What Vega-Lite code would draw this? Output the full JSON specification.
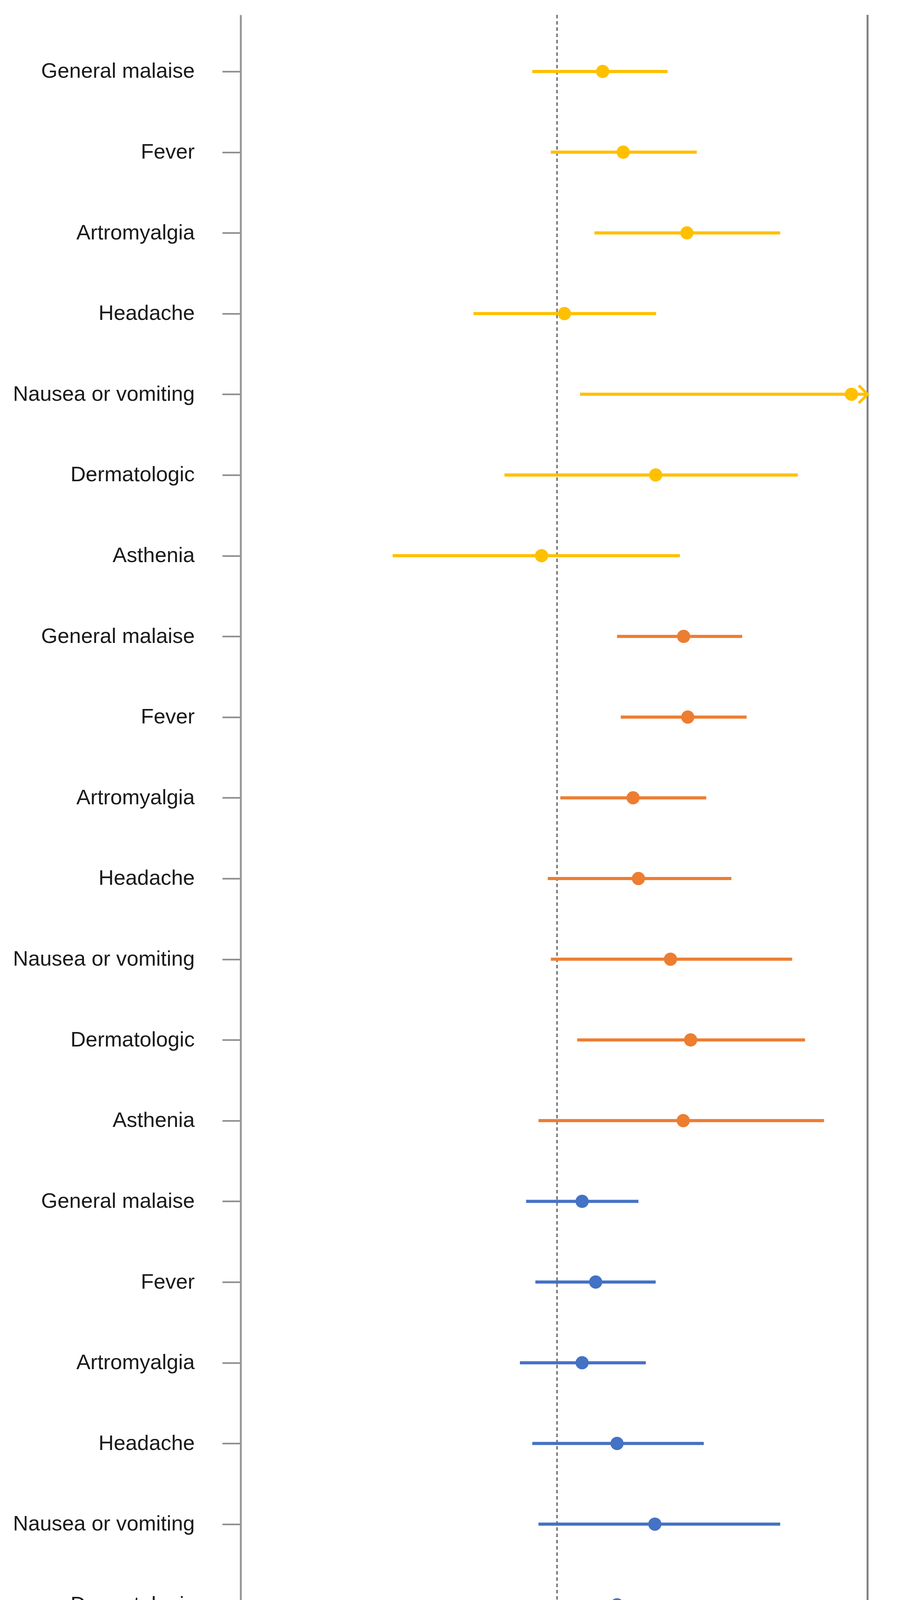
{
  "$schema": "https://vega.github.io/schema/vega-lite/v6.json",
  "width": 1605,
  "height": 4390,
  "autosize": "none",
  "padding": {"left": 616, "top": 38, "right": 124, "bottom": 299},
  "background": "white",
  "config": {
    "font": "Liberation Sans",
    "view": {"stroke": null},
    "axis": {"grid": false}
  },
  "datasets": {
    "or": [
      {"group": "Women", "reaction": "General malaise", "key": "W|General malaise", "or": 2.11, "lo": 0.92, "hi": 3.69},
      {"group": "Women", "reaction": "Fever", "key": "W|Fever", "or": 2.61, "lo": 0.98, "hi": 4.40},
      {"group": "Women", "reaction": "Artromyalgia", "key": "W|Artromyalgia", "or": 4.16, "lo": 1.91, "hi": 7.01},
      {"group": "Women", "reaction": "Headache", "key": "W|Headache", "or": 1.18, "lo": 0.73, "hi": 3.41},
      {"group": "Women", "reaction": "Nausea or vomiting", "key": "W|Nausea or vomiting", "or": 9.45, "lo": 1.56, "hi": 12},
      {"group": "Women", "reaction": "Dermatologic", "key": "W|Dermatologic", "or": 3.40, "lo": 0.83, "hi": 7.61},
      {"group": "Women", "reaction": "Asthenia", "key": "W|Asthenia", "or": 0.95, "lo": 0.47, "hi": 3.99},
      {"group": "Antecedent of COVID-19 infection", "reaction": "General malaise", "key": "C|General malaise", "or": 4.08, "lo": 2.46, "hi": 5.71},
      {"group": "Antecedent of COVID-19 infection", "reaction": "Fever", "key": "C|Fever", "or": 4.18, "lo": 2.55, "hi": 5.86},
      {"group": "Antecedent of COVID-19 infection", "reaction": "Artromyalgia", "key": "C|Artromyalgia", "or": 2.85, "lo": 1.08, "hi": 4.63},
      {"group": "Antecedent of COVID-19 infection", "reaction": "Headache", "key": "C|Headache", "or": 2.98, "lo": 0.97, "hi": 5.34},
      {"group": "Antecedent of COVID-19 infection", "reaction": "Nausea or vomiting", "key": "C|Nausea or vomiting", "or": 3.76, "lo": 0.98, "hi": 7.42},
      {"group": "Antecedent of COVID-19 infection", "reaction": "Dermatologic", "key": "C|Dermatologic", "or": 4.25, "lo": 1.49, "hi": 7.86},
      {"group": "Antecedent of COVID-19 infection", "reaction": "Asthenia", "key": "C|Asthenia", "or": 4.07, "lo": 0.94, "hi": 8.51},
      {"group": "Age > 45 years", "reaction": "General malaise", "key": "A|General malaise", "or": 1.61, "lo": 0.90, "hi": 2.98},
      {"group": "Age > 45 years", "reaction": "Fever", "key": "A|Fever", "or": 1.94, "lo": 0.93, "hi": 3.40},
      {"group": "Age > 45 years", "reaction": "Artromyalgia", "key": "A|Artromyalgia", "or": 1.61, "lo": 0.88, "hi": 3.16},
      {"group": "Age > 45 years", "reaction": "Headache", "key": "A|Headache", "or": 2.46, "lo": 0.92, "hi": 4.57},
      {"group": "Age > 45 years", "reaction": "Nausea or vomiting", "key": "A|Nausea or vomiting", "or": 3.38, "lo": 0.94, "hi": 7.01},
      {"group": "Age > 45 years", "reaction": "Dermatologic", "key": "A|Dermatologic", "or": 2.46, "lo": 0.83, "hi": 5.19},
      {"group": "Age > 45 years", "reaction": "Asthenia", "key": "A|Asthenia", "or": 0.96, "lo": 0.53, "hi": 3.76}
    ]
  },
  "layer": [
    {
      "data": {"values": [{"ref": 1}]},
      "mark": {"type": "rule", "strokeDash": [9, 7], "strokeWidth": 2.5, "color": "#333333"},
      "encoding": {
        "x": {"field": "ref", "type": "quantitative",
              "scale": {"domain": [0, 0.5, 1, 5, 10], "range": [0, 414, 810, 1231, 1605], "clamp": true, "nice": false, "zero": false},
              "axis": {"values": [0, 0.5, 1, 5, 10], "format": "~r",
                       "title": "Odds Ratio for each adverse reaction reported (logistic regression model)",
                       "titleFontSize": 53, "titleFontWeight": "normal", "titleColor": "#1a1a1a",
                       "titleBaseline": "alphabetic", "titleY": 162,
                       "labelFontSize": 52, "labelColor": "#1a1a1a", "labelBaseline": "alphabetic", "labelPadding": 76,
                       "labelFlush": false, "labelOverlap": false,
                       "tickSize": 23, "tickWidth": 2, "tickColor": "#444444",
                       "domainColor": "#8a8a8a", "domainWidth": 7}}
      }
    },
    {
      "data": {"values": [{"edge": 10}]},
      "mark": {"type": "rule", "strokeWidth": 5, "color": "#808080"},
      "encoding": {
        "x": {"field": "edge", "type": "quantitative",
              "scale": {"domain": [0, 0.5, 1, 5, 10], "range": [0, 414, 810, 1231, 1605], "clamp": true, "nice": false, "zero": false},
              "axis": {"values": [0, 0.5, 1, 5, 10], "format": "~r",
                       "title": "Odds Ratio for each adverse reaction reported (logistic regression model)",
                       "titleFontSize": 53, "titleFontWeight": "normal", "titleColor": "#1a1a1a",
                       "titleBaseline": "alphabetic", "titleY": 162,
                       "labelFontSize": 52, "labelColor": "#1a1a1a", "labelBaseline": "alphabetic", "labelPadding": 76,
                       "labelFlush": false, "labelOverlap": false,
                       "tickSize": 23, "tickWidth": 2, "tickColor": "#444444",
                       "domainColor": "#8a8a8a", "domainWidth": 7}}
      }
    },
    {
      "data": {"name": "or"},
      "mark": {"type": "rule", "strokeWidth": 8},
      "encoding": {
        "y": {"field": "key", "type": "nominal", "sort": null,
              "scale": {"type": "point", "padding": 0.624, "align": 0.562},
              "axis": {"title": null, "labelExpr": "split(datum.label, '|')[1]", "labelFontSize": 54, "labelColor": "#1a1a1a",
                       "labelPadding": 71, "tickSize": 47, "tickWidth": 4, "tickColor": "#8a8a8a",
                       "domainColor": "#999999", "domainWidth": 5, "labelLimit": 0}},
        "x": {"field": "lo", "type": "quantitative",
              "scale": {"domain": [0, 0.5, 1, 5, 10], "range": [0, 414, 810, 1231, 1605], "clamp": true, "nice": false, "zero": false},
              "axis": {"values": [0, 0.5, 1, 5, 10], "format": "~r",
                       "title": "Odds Ratio for each adverse reaction reported (logistic regression model)",
                       "titleFontSize": 53, "titleFontWeight": "normal", "titleColor": "#1a1a1a",
                       "titleBaseline": "alphabetic", "titleY": 162,
                       "labelFontSize": 52, "labelColor": "#1a1a1a", "labelBaseline": "alphabetic", "labelPadding": 76,
                       "labelFlush": false, "labelOverlap": false,
                       "tickSize": 23, "tickWidth": 2, "tickColor": "#444444",
                       "domainColor": "#8a8a8a", "domainWidth": 7}},
        "x2": {"field": "hi"},
        "stroke": {"field": "group", "type": "nominal", "legend": null,
                  "scale": {"domain": ["Age > 45 years", "Antecedent of COVID-19 infection", "Women"], "range": ["#4472C4", "#ED7D31", "#FFC000"]}}
      }
    },
    {
      "data": {"name": "or"},
      "mark": {"type": "point", "shape": "circle", "filled": true, "size": 1150, "opacity": 1},
      "encoding": {
        "y": {"field": "key", "type": "nominal", "sort": null,
              "axis": {"title": null, "labelExpr": "split(datum.label, '|')[1]", "labelFontSize": 54, "labelColor": "#1a1a1a",
                       "labelPadding": 71, "tickSize": 47, "tickWidth": 4, "tickColor": "#8a8a8a",
                       "domainColor": "#999999", "domainWidth": 5, "labelLimit": 0}},
        "x": {"field": "or", "type": "quantitative",
              "axis": {"values": [0, 0.5, 1, 5, 10], "format": "~r",
                       "title": "Odds Ratio for each adverse reaction reported (logistic regression model)",
                       "titleFontSize": 53, "titleFontWeight": "normal", "titleColor": "#1a1a1a",
                       "titleBaseline": "alphabetic", "titleY": 162,
                       "labelFontSize": 52, "labelColor": "#1a1a1a", "labelBaseline": "alphabetic", "labelPadding": 76,
                       "labelFlush": false, "labelOverlap": false,
                       "tickSize": 23, "tickWidth": 2, "tickColor": "#444444",
                       "domainColor": "#8a8a8a", "domainWidth": 7}},
        "color": {"field": "group", "type": "nominal",
                  "scale": {"domain": ["Women", "Antecedent of COVID-19 infection", "Age > 45 years"], "range": ["#FFC000", "#ED7D31", "#4472C4"]},
                  "legend": {"orient": "none", "legendX": 328, "legendY": 4566, "direction": "horizontal", "title": null,
                             "symbolType": "M-0.07,-1L0.07,-1L0.07,1L-0.07,1Z M-0.52,0A0.52,0.52,0,1,1,0.52,0A0.52,0.52,0,1,1,-0.52,0Z",
                             "symbolSize": 5041, "symbolStrokeWidth": 0, "symbolOpacity": 1,
                             "labelFontSize": 36, "labelColor": "#1a1a1a", "labelOffset": 2, "labelLimit": 0,
                             "columnPadding": 48, "padding": 0,
                             "labelExpr": "datum.label == 'Antecedent of COVID-19 infection' ? ['Antecedent of', 'COVID-19 infection'] : datum.label"}}
      }
    },
    {
      "data": {"name": "or"},
      "transform": [{"filter": "datum.hi > 10"}],
      "mark": {"type": "point", "shape": "M-1,-1L0,0L-1,1", "filled": false, "size": 2025, "strokeWidth": 7, "opacity": 1},
      "encoding": {
        "y": {"field": "key", "type": "nominal", "sort": null,
              "axis": {"title": null, "labelExpr": "split(datum.label, '|')[1]", "labelFontSize": 54, "labelColor": "#1a1a1a",
                       "labelPadding": 71, "tickSize": 47, "tickWidth": 4, "tickColor": "#8a8a8a",
                       "domainColor": "#999999", "domainWidth": 5, "labelLimit": 0}},
        "x": {"field": "hi", "type": "quantitative",
              "axis": {"values": [0, 0.5, 1, 5, 10], "format": "~r",
                       "title": "Odds Ratio for each adverse reaction reported (logistic regression model)",
                       "titleFontSize": 53, "titleFontWeight": "normal", "titleColor": "#1a1a1a",
                       "titleBaseline": "alphabetic", "titleY": 162,
                       "labelFontSize": 52, "labelColor": "#1a1a1a", "labelBaseline": "alphabetic", "labelPadding": 76,
                       "labelFlush": false, "labelOverlap": false,
                       "tickSize": 23, "tickWidth": 2, "tickColor": "#444444",
                       "domainColor": "#8a8a8a", "domainWidth": 7}},
        "stroke": {"field": "group", "type": "nominal", "legend": null}
      }
    }
  ]
}
